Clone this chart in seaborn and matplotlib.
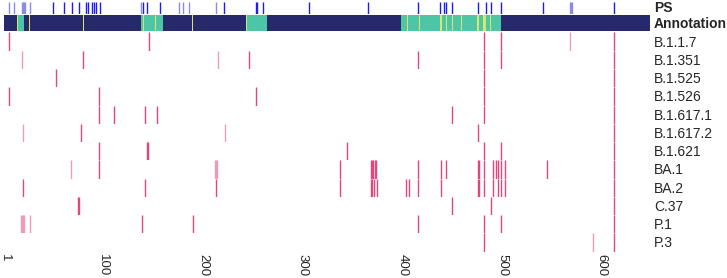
import numpy as np
import seaborn as sns
import matplotlib.pyplot as plt
from matplotlib.colors import ListedColormap

# Sequence positions covered by the tracks
seq_len = 648
tick_positions = [1, 100, 200, 300, 400, 500, 600]

# PS track (strong / weak sites)
ps_strong = [50, 61, 69, 76, 83, 85, 89, 91, 93, 97, 140, 144, 157, 221, 253, 254,
             260, 306, 366, 416, 438, 442, 444, 450, 476, 484, 489, 499, 541, 612]
ps_light = [6, 11, 19, 20, 21, 22, 27, 138, 176, 180, 186, 213, 568, 569, 570]

# Annotation track: 0 = background, 1 = region, 2 = site
teal_ranges = [(14, 20), (138, 159), (245, 264), (399, 499)]
yellow_sites = [14, 26, 80, 140, 152, 190, 244, 405, 417, 438, 439, 444, 450,
                459, 475, 476, 481, 482, 483, 489]

# Mutation positions per variant
variants = ["B.1.1.7", "B.1.351", "B.1.525", "B.1.526", "B.1.617.1", "B.1.617.2",
            "B.1.621", "BA.1", "BA.2", "C.37", "P.1", "P.3"]
mutations = {
    "B.1.1.7": [6, 146, 482, 499, 568, 612],
    "B.1.351": [19, 80, 215, 246, 416, 482, 499, 612],
    "B.1.525": [53, 482, 612],
    "B.1.526": [6, 96, 253, 482, 612],
    "B.1.617.1": [96, 111, 142, 154, 450, 482, 612],
    "B.1.617.2": [20, 78, 222, 476, 612],
    "B.1.621": [96, 144, 145, 345, 482, 499, 612],
    "BA.1": [68, 96, 212, 213, 214, 338, 369, 370, 371, 373, 374, 416, 439, 444,
             476, 477, 482, 491, 494, 496, 499, 503, 545, 612],
    "BA.2": [20, 142, 213, 338, 369, 370, 372, 375, 404, 407, 416, 439, 476, 477,
             482, 491, 496, 499, 503, 612],
    "C.37": [75, 76, 450, 489, 612],
    "P.1": [18, 19, 20, 21, 27, 139, 190, 416, 482, 499, 612],
    "P.3": [482, 591, 612],
}
# lower-frequency mutations drawn lighter
faint = {
    "B.1.1.7": [568],
    "B.1.351": [19, 215],
    "B.1.617.2": [20, 222],
    "BA.1": [68, 212, 213, 214],
    "P.1": [18, 19, 20, 21, 27],
    "P.3": [591],
}

sns.set_style("white")
plt.rcParams['font.family'] = ['Liberation Sans', 'DejaVu Sans']

W, H = 727, 278
fig = plt.figure(figsize=(W / 100, H / 100), dpi=100)


def add_row(top, height):
    ax = fig.add_axes([4 / W, 1 - (top + height) / H, 646 / W, height / H])
    return ax


def clean(ax):
    ax.set_yticks([])
    ax.set_xticks([])
    sns.despine(ax=ax, left=True, bottom=True)


# PS track
ax = add_row(2, 12)
sns.rugplot(x=ps_light, height=1, color='#8c8ce8', lw=1.3, ax=ax, expand_margins=False)
sns.rugplot(x=ps_strong, height=1, color='#1c1cf0', lw=1.3, ax=ax, expand_margins=False)
ax.set_xlim(0.5, seq_len + 0.5)
clean(ax)
fig.text(654 / W, 1 - 8 / H, "PS", fontsize=10, fontweight='bold', va='center')

# Annotation track
annot = np.zeros(seq_len)
for a, b in teal_ranges:
    annot[a - 1:b] = 1
annot[np.array(yellow_sites) - 1] = 2
ax = add_row(15, 16)
sns.heatmap(annot[None, :], cmap=ListedColormap(['#262a6c', '#4cc6a6', '#dfe36c']),
            vmin=0, vmax=2, cbar=False, xticklabels=False, yticklabels=False, ax=ax)
ax.set_xlim(0, seq_len)
clean(ax)
fig.text(654 / W, 1 - 24 / H, "Annotation", fontsize=10, fontweight='bold', va='center')

# Variant tracks
row_h = 18.25
top0 = 32.5
for i, v in enumerate(variants):
    ax = add_row(top0 + i * row_h, row_h)
    light = [p for p in mutations[v] if p in faint.get(v, [])]
    strong = [p for p in mutations[v] if p not in faint.get(v, [])]
    if light:
        sns.rugplot(x=light, height=1, color='#f09ab8', lw=1.3, ax=ax, expand_margins=False)
    sns.rugplot(x=strong, height=1, color='#e3467f', lw=1.3, ax=ax, expand_margins=False)
    ax.set_xlim(0.5, seq_len + 0.5)
    clean(ax)
    fig.text(654 / W, 1 - (top0 + (i + 0.5) * row_h + 1) / H, v, fontsize=10, va='center')

# x tick labels on the last track
ax.set_xticks(tick_positions)
ax.set_xticklabels([str(t) for t in tick_positions], rotation=270, fontsize=9.5)
ax.tick_params(axis='x', length=0, pad=1.5)

fig.savefig('out.png', dpi=100)
